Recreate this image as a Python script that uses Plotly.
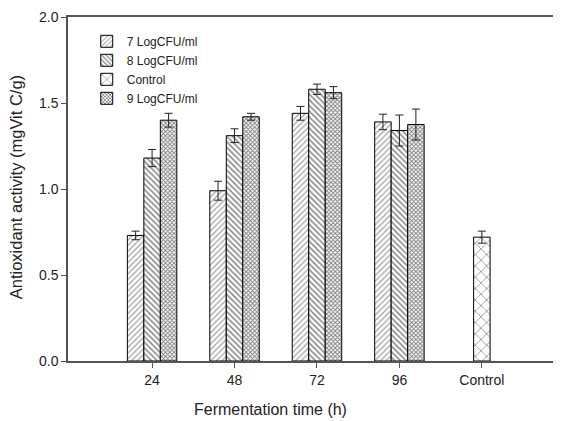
import plotly.graph_objects as go

categories = ["24", "48", "72", "96", "Control"]
groups = ["24", "48", "72", "96"]

log7 = [0.73, 0.99, 1.44, 1.39]
log7_err = [0.025, 0.055, 0.04, 0.045]
log8 = [1.18, 1.31, 1.58, 1.34]
log8_err = [0.05, 0.04, 0.03, 0.09]
log9 = [1.40, 1.42, 1.56, 1.375]
log9_err = [0.04, 0.02, 0.035, 0.09]
control = [0.72]
control_err = [0.035]

x_title = "Fermentation time (h)"
y_title = "Antioxidant activity (mgVit C/g)"

font_family = "Liberation Sans, Arial, sans-serif"

def bar(name, x, y, err, offset, shape, size, solidity, fg):
    return go.Bar(
        name=name, x=x, y=y, offset=offset, width=0.2,
        marker=dict(
            color="white",
            line=dict(color="black", width=1),
            pattern=dict(shape=shape, fgcolor=fg, bgcolor="white",
                         size=size, solidity=solidity, fillmode="overlay"),
        ),
        error_y=dict(type="data", array=err, visible=True,
                     color="#222", thickness=1, width=4),
    )

fig = go.Figure()
fig.add_trace(bar("7 LogCFU/ml", groups, log7, log7_err, -0.3, "/", 4, 0.3, "#444"))
fig.add_trace(bar("8 LogCFU/ml", groups, log8, log8_err, -0.1, "\\", 4, 0.38, "#111"))
fig.add_trace(bar("Control", ["Control"], control, control_err, -0.1, "x", 8, 0.18, "#111"))
fig.add_trace(bar("9 LogCFU/ml", groups, log9, log9_err, 0.1, "x", 3, 0.55, "#000"))

# The page body adds an 8px margin, so the figure is sized to fit the 561x421 window.
fig.update_layout(
    width=553, height=413,
    margin=dict(l=60, r=0, t=9, b=60),
    paper_bgcolor="white", plot_bgcolor="white",
    barmode="overlay",
    font=dict(family=font_family, size=14, color="#222"),
    legend=dict(x=0.038, y=0.9715, xanchor="left", yanchor="top",
                bgcolor="rgba(0,0,0,0)", font=dict(size=12),
                tracegroupgap=0, itemwidth=30),
    showlegend=True,
    annotations=[
        dict(text=x_title, xref="paper", yref="paper", x=0.41, y=-0.141,
             xanchor="center", yanchor="middle", showarrow=False,
             font=dict(size=16)),
        dict(text=y_title, xref="paper", yref="paper", x=-0.1055, y=0.505,
             xanchor="center", yanchor="middle", showarrow=False,
             textangle=-90, font=dict(size=16.5)),
    ],
)
fig.update_xaxes(
    type="category", categoryorder="array", categoryarray=categories,
    range=[-1.02, 4.96], automargin=False,
    showline=True, linecolor="#555", linewidth=1.5, mirror=True,
    ticks="outside", ticklen=5, tickcolor="#555",
    showgrid=False, zeroline=False,
)
fig.update_yaxes(
    range=[0, 2.0], tickvals=[0, 0.5, 1.0, 1.5, 2.0],
    ticktext=["0.0", "0.5", "1.0", "1.5", "2.0"], automargin=False,
    ticklabeloverflow="allow",
    showline=True, linecolor="#555", linewidth=1.5,
    ticks="outside", ticklen=5, tickcolor="#555",
    showgrid=False, zeroline=False,
)

fig.write_html("out.html")
